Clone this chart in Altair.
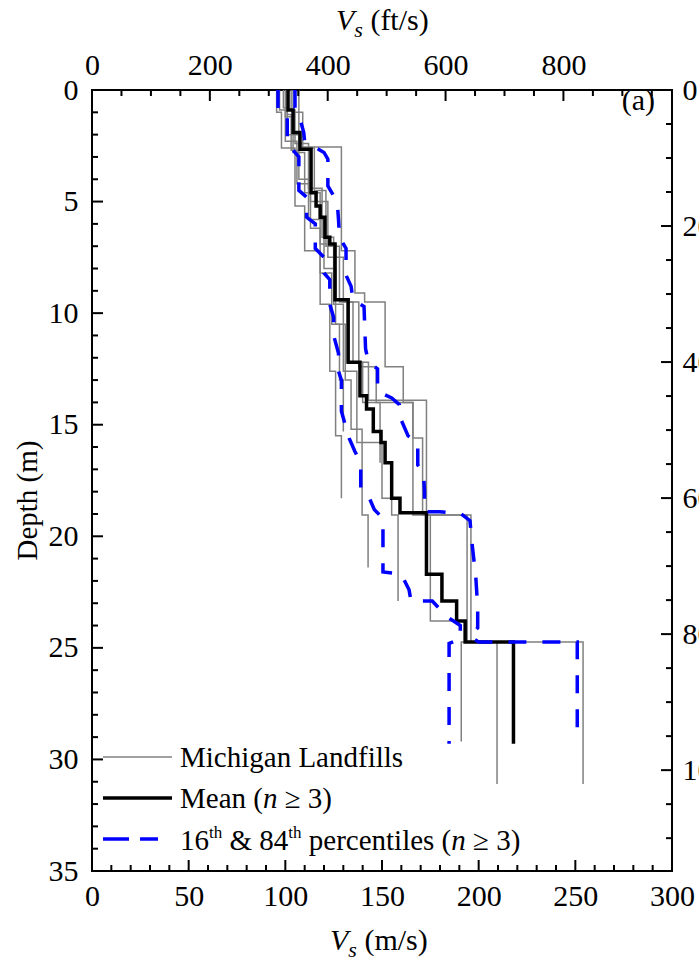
import altair as alt
import pandas as pd

FT = 0.3048            # metres per foot
SERIF = "Liberation Serif"
W, H = 580, 781        # plot area in pixels

# ---------------- Michigan landfill Vs profiles ----------------
# layer boundaries (m) and the Vs of each layer (m/s)
lf1_depth = [0, 1.0, 2.6, 5.2, 7.2, 9.6, 12.6, 15.5, 18.3]
lf1_vs = [95.5, 98, 105, 110, 118, 123, 126, 129]

lf2_depth = [0, 0.8, 2.0, 4.0, 5.8, 8.0, 10.5, 13.0, 15.2, 19.05, 21.4]
lf2_vs = [99, 101, 107, 112, 120, 126, 131, 134, 139.7, 142.8]

lf3_depth = [0, 1.2, 2.8, 4.6, 6.9, 9.4, 12.2, 14.0, 16.7]
lf3_vs = [100, 104, 110, 118, 126, 132, 140, 149]

lf4_depth = [0, 0.9, 2.4, 4.4, 6.6, 9.6, 12.6, 15.8, 18.3, 19.05, 22.9]
lf4_vs = [103, 105, 112, 119, 125, 130, 137, 150, 155, 158.3]

lf5_depth = [0, 0.9, 2.3, 4.2, 6.2, 8.2, 10.5, 13.0, 15.3]
lf5_vs = [97, 100, 106, 113, 118, 124, 128, 130]

lf6_depth = [0, 1.0, 2.55, 7.2, 9.1, 9.5, 12.4, 14.0, 15.6, 19.05, 24.74, 31.1]
lf6_vs = [107, 109, 129, 136, 141, 151.6, 161, 166, 171, 196, 254]

lf7_depth = [0, 1.0, 2.6, 4.5, 7.0, 9.5, 12.4, 14.0, 19.05, 23.8, 24.74, 31.1]
lf7_vs = [104, 107, 115, 121, 128, 138, 147, 166, 175, 194, 209.5]

lf8_depth = [0, 1.1, 2.7, 5.0, 7.5, 9.5, 12.2, 13.9, 19.05, 24.74, 29.2]
lf8_vs = [101, 103, 113, 122, 130, 135, 143, 173, 194, 191]

# ---------------- mean profile (n >= 3) ----------------
mean_depth = [0, 0.9, 1.9, 2.65, 4.6, 5.2, 5.7, 6.6, 6.9, 9.4, 12.2, 13.7, 14.3,
              15.3, 15.8, 16.7, 18.3, 18.95, 21.7, 22.9, 23.8, 24.74, 29.3]
mean_vs = [101.4, 104, 107.6, 113.3, 115.9, 118, 120.5, 123, 125.7, 132.5, 138.6,
           142, 145.5, 149.5, 151.6, 155, 159.3, 173, 181, 188.6, 193, 218]

# ---------------- 16th and 84th percentiles (n >= 3) ----------------
p16_vs = [96.2, 96.2, 101, 101, 104, 107, 107, 111, 111, 115.5,
          115.5, 120, 120, 123, 123, 125, 125, 127.5, 127.5, 129,
          129, 131, 133, 136, 139, 139, 143, 146, 150.5, 150.5,
          160, 164, 165, 176, 183.5, 187, 190.5, 190.5, 184.7, 184.7]
p16_depth = [0, 0.9, 1.1, 2.3, 2.7, 3.0, 4.5, 4.8, 5.7, 6.0,
             7.1, 7.5, 8.2, 8.5, 9.6, 10.2, 11.0, 11.8, 12.6, 13.0,
             14.4, 15.0, 15.6, 16.2, 16.7, 17.9, 18.2, 18.8, 19.2, 21.6,
             21.7, 22.4, 22.9, 22.9, 23.6, 23.8, 24.0, 24.6, 24.8, 29.3]

p84_vs = [105, 105, 107, 109.5, 110, 114, 120, 122, 122, 124.7,
          127, 127.5, 128, 131.4, 131.4, 134, 135, 140.7, 141.5, 143,
          147.7, 147.7, 155, 159, 160, 163.5, 168.5, 168.5, 171.5, 172,
          172, 180, 191, 195.5, 196.8, 198.5, 199.5, 199.5, 195.5, 200,
          251, 251]
p84_depth = [0, 0.8, 1.1, 1.9, 2.3, 2.5, 2.8, 3.1, 4.3, 4.7,
             5.2, 5.8, 6.6, 7.1, 8.3, 8.8, 9.4, 9.7, 11.6, 12.2,
             12.5, 13.5, 13.8, 14.1, 14.8, 15.5, 15.8, 16.8, 17.2, 18.0,
             18.9, 18.9, 19.0, 19.3, 20.5, 21.8, 23.2, 24.1, 24.5, 24.74,
             24.74, 28.8]

# ---------------- axis tick values ----------------
vs_labels = [0, 50, 100, 150, 200, 250, 300]
depth_labels = [0, 5, 10, 15, 20, 25, 30, 35]
fts_labels = [0, 200, 400, 600, 800]
ft_labels = [0, 20, 40, 60, 80, 100]

left_major = [5, 10, 15, 20, 25, 30]
left_minor = [d for d in range(1, 35) if d % 5]
bottom_major = [50, 100, 150, 200, 250]
bottom_minor = [v for v in range(10, 300, 10) if v % 50]
top_major = [200, 400, 600, 800]
top_minor = [v for v in range(50, 1000, 50) if v % 200]
right_major = [20, 40, 60, 80, 100]
right_minor = [v for v in range(5, 115, 5) if v % 20]


def steps(name, depth, vs):
    """Vertices of a layered (step) profile."""
    rows = []
    for j, v in enumerate(vs):
        rows.append({"name": name, "i": 2 * j, "v": v, "d": depth[j]})
        rows.append({"name": name, "i": 2 * j + 1, "v": v, "d": depth[j + 1]})
    return rows


lf_rows = []
for name, dep, vs in [("LF1", lf1_depth, lf1_vs), ("LF2", lf2_depth, lf2_vs),
                      ("LF3", lf3_depth, lf3_vs), ("LF4", lf4_depth, lf4_vs),
                      ("LF5", lf5_depth, lf5_vs), ("LF6", lf6_depth, lf6_vs),
                      ("LF7", lf7_depth, lf7_vs), ("LF8", lf8_depth, lf8_vs)]:
    lf_rows += steps(name, dep, vs)
df_lf = pd.DataFrame(lf_rows)
df_mean = pd.DataFrame(steps("mean", mean_depth, mean_vs))
df_pct = pd.DataFrame(
    [{"series": "p16", "i": k, "v": v, "d": d} for k, (v, d) in enumerate(zip(p16_vs, p16_depth))]
    + [{"series": "p84", "i": k, "v": v, "d": d} for k, (v, d) in enumerate(zip(p84_vs, p84_depth))]
)

# ---------------- shared scales / axes ----------------
label_style = dict(labelFont=SERIF, labelFontSize=30, labelColor="black",
                   labelFlush=False, labelOverlap=False, ticks=False,
                   domain=False, grid=False)
xscale = alt.Scale(domain=[0, 300], nice=False, zero=False)
yscale = alt.Scale(domain=[0, 35], reverse=True, nice=False, zero=False)
X = alt.X("v:Q", scale=xscale,
          axis=alt.Axis(values=vs_labels, labelPadding=10, title=None, **label_style))
Y = alt.Y("d:Q", scale=yscale,
          axis=alt.Axis(values=depth_labels, labelPadding=14, title="Depth (m)",
                        titleFont=SERIF, titleFontSize=29, titleFontWeight="normal",
                        titleColor="black", titlePadding=6, titleY=410, **label_style))

gray = alt.Chart(df_lf).mark_line(color="#808080", strokeWidth=1.5).encode(
    x=X, y=Y, detail="name:N", order="i:Q")
mean = alt.Chart(df_mean).mark_line(color="black", strokeWidth=3.5).encode(
    x=X, y=Y, order="i:Q")
pct = alt.Chart(df_pct).mark_line(color="#0000ff", strokeWidth=3.5,
                                  strokeDash=[18, 16]).encode(
    x=X, y=Y, detail="series:N", order="i:Q")


# ---------------- inward tick marks ----------------
def rule():
    return dict(color="black", strokeWidth=2)


def yticks(values, x0, x1, feet=False):
    base = alt.Chart(pd.DataFrame({"t": values}))
    base = base.transform_calculate(d=f"datum.t * {FT}" if feet else "datum.t")
    return base.mark_rule(**rule()).encode(y=Y, x=alt.value(x0), x2=alt.value(x1))


def xticks(values, y0, y1, feet=False):
    base = alt.Chart(pd.DataFrame({"t": values}))
    base = base.transform_calculate(v=f"datum.t * {FT}" if feet else "datum.t")
    return base.mark_rule(**rule()).encode(x=X, y=alt.value(y0), y2=alt.value(y1))


ticks = [
    yticks(left_major, 0, 11), yticks(left_minor, 0, 6),
    yticks(right_major, W, W - 11, True), yticks(right_minor, W, W - 6, True),
    xticks(bottom_major, H, H - 11), xticks(bottom_minor, H, H - 6),
    xticks(top_major, 0, 11, True), xticks(top_minor, 0, 6, True),
]

# ---------------- text pieces ----------------
TIMES = {" ": 250, "(": 333, ")": 333, "&": 778, "≥": 549, "/": 278}
TIMES.update({c: 500 for c in "0123456789"})
TIMES.update({"M": 889, "e": 444, "a": 444, "n": 500, "p": 500, "r": 333, "c": 444,
              "t": 278, "i": 278, "l": 278, "s": 389, "h": 500, "m": 778, "f": 333})
TIMES_I = {"n": 500, "V": 611, "s": 389}


def piece(text, x, y, size, italic=False, align="left"):
    return alt.Chart(pd.DataFrame({"t": [text]})).mark_text(
        font=SERIF, fontSize=size, fontStyle="italic" if italic else "normal",
        align=align, baseline="alphabetic", color="black"
    ).encode(x=alt.value(x), y=alt.value(y), text="t:N")


def run(segments, x0, y0):
    out, x = [], x0
    for text, size, italic, dy in segments:
        table = TIMES_I if italic else TIMES
        lead = len(text) - len(text.lstrip(" "))
        out.append(piece(text.strip(), x + lead * 0.25 * size, y0 + dy, size, italic))
        x += sum(table.get(c, 500) for c in text) / 1000 * size
    return out


texts = []
texts += run([("V", 30, True, 0), ("s", 22, True, 7), (" (m/s)", 30, False, 0)], 238, 860)
texts += run([("V", 30, True, 0), ("s", 22, True, 7), (" (ft/s)", 30, False, 0)], 244, -60)
texts.append(piece("(a)", 563, 20, 30, align="right"))

# legend
LEG = 29
texts.append(piece("Michigan Landfills", 88, 677, LEG))
texts += run([("Mean (", LEG, False, 0), ("n", LEG, True, 0), (" ≥ 3)", LEG, False, 0)], 88, 718)
texts += run([("16", LEG, False, 0), ("th", 17, False, -12), (" & 84", LEG, False, 0),
              ("th", 17, False, -12), (" percentiles (", LEG, False, 0),
              ("n", LEG, True, 0), (" ≥ 3)", LEG, False, 0)], 88, 760)

one = pd.DataFrame({"k": [0]})
legend_lines = [
    alt.Chart(one).mark_rule(color="#808080", strokeWidth=1.5).encode(
        x=alt.value(11), x2=alt.value(80), y=alt.value(667)),
    alt.Chart(one).mark_rule(color="black", strokeWidth=3.5).encode(
        x=alt.value(11), x2=alt.value(80), y=alt.value(708)),
    alt.Chart(one).mark_rule(color="#0000ff", strokeWidth=3.5, strokeDash=[26, 11]).encode(
        x=alt.value(11), x2=alt.value(66), y=alt.value(749)),
]

main = alt.layer(gray, mean, pct, *ticks, *legend_lines, *texts)

# secondary axes in imperial units (ft/s on top, ft on the right)
imperial = alt.Chart(pd.DataFrame({"fts": [0], "ft": [0]})).mark_point(opacity=0).encode(
    x=alt.X("fts:Q", scale=alt.Scale(domain=[0, 300 / FT], nice=False, zero=False),
            axis=alt.Axis(orient="top", values=fts_labels, labelPadding=10,
                          title=None, **label_style)),
    y=alt.Y("ft:Q", scale=alt.Scale(domain=[0, 35 / FT], reverse=True, nice=False, zero=False),
            axis=alt.Axis(orient="right", values=ft_labels, labelPadding=10,
                          title=None, **label_style)),
)

chart = (
    alt.layer(main, imperial)
    .resolve_scale(x="independent", y="independent")
    .properties(width=W, height=H,
                padding={"left": 92, "top": 90, "right": 27, "bottom": 89},
                autosize=alt.AutoSizeParams(type="none"))
    .configure(background="white")
    .configure_view(stroke="black", strokeWidth=2)
)

chart.save("out.html", embed_options={"renderer": "svg", "actions": False})
